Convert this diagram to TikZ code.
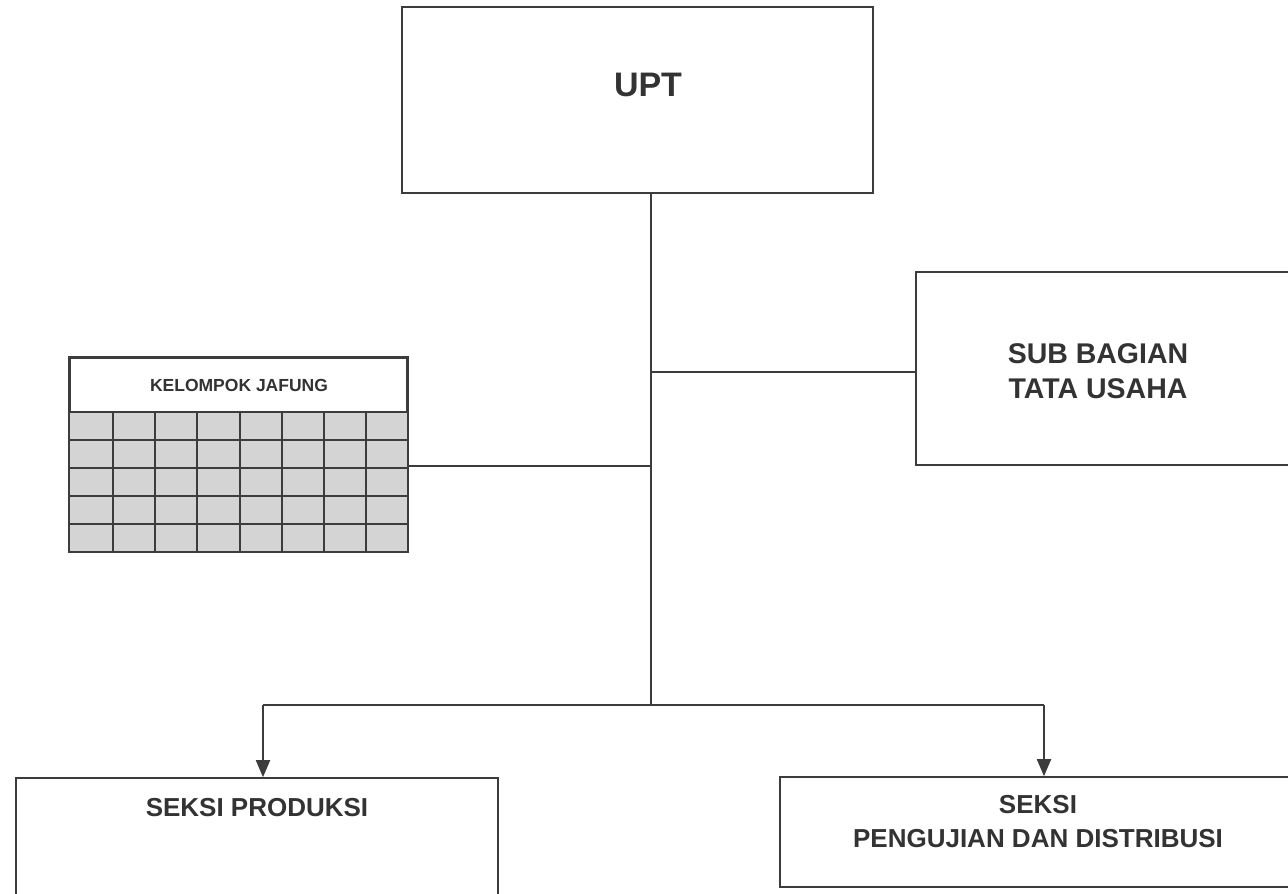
\documentclass[tikz,border=0pt]{standalone}
\usepackage{fontspec}
\setmainfont{Liberation Sans}
\usetikzlibrary{arrows.meta,calc}
\definecolor{ink}{HTML}{3C3C3C}
\definecolor{txtc}{HTML}{333333}
\definecolor{cellc}{HTML}{D4D4D4}
\tikzset{
  orgbox/.style={draw=ink, line width=1.6pt, rectangle, inner sep=0pt, fill=white},
  orgtxt/.style={text=txtc, font=\bfseries\fontsize{26}{32}\selectfont, align=center, inner sep=0pt},
  conn/.style={draw=ink, line width=1.8pt},
  arr/.style={conn, -{Triangle[width=14pt,length=17pt]}},
}
\begin{document}
\begin{tikzpicture}[x=1pt,y=-1pt]
\useasboundingbox (0,0) rectangle (1288,894);
\clip (0,0) rectangle (1288,894);
\fill[white] (0,0) rectangle (1288,894);
% UPT
\node[orgbox, minimum width=471pt, minimum height=186pt] (upt) at (637.5,100) {};
\node[orgtxt, font=\bfseries\fontsize{34}{38}\selectfont] (upttxt) at (648,85) {UPT};
% Sub Bagian Tata Usaha
\node[orgbox, minimum width=390pt, minimum height=193pt] (tu) at (1111,368.5) {};
\node[orgtxt, font=\bfseries\fontsize{28.5}{35}\selectfont] (tutxt) at (1098,371) {SUB BAGIAN\\TATA USAHA};
% Kelompok Jafung
\node[orgbox, minimum width=337pt, minimum height=193pt] (kj) at (238.5,454.5) {};
\fill[cellc] (70,412) rectangle (407,551);
\foreach \r in {412,440,468,496,524}{\draw[ink, line width=1.4pt] (70,\r) -- (407,\r);}
\foreach \c in {113,155,197,240,282,324,366}{\draw[ink, line width=1.4pt] (\c,412) -- (\c,551);}
\draw[ink, line width=1.6pt] (kj.north west) rectangle (kj.south east);
\node[orgtxt, font=\bfseries\fontsize{17.5}{20}\selectfont] (kjtxt) at (239,385) {KELOMPOK JAFUNG};
% Seksi boxes
\node[orgbox, minimum width=482pt, minimum height=140pt] (prod) at (257,848) {};
\node[orgtxt] (prodtxt) at (257,808) {SEKSI PRODUKSI};
\node[orgbox, minimum width=530pt, minimum height=110pt] (peng) at (1045,832) {};
\node[orgtxt, font=\bfseries\fontsize{26}{34}\selectfont] (pengtxt) at (1038,822) {SEKSI\\PENGUJIAN DAN DISTRIBUSI};
% connectors
\coordinate (bus) at (651,705);
\coordinate (busL) at (263,705);
\coordinate (busR) at (1044,705);
\coordinate (kjr) at (407,466);
\coordinate (tul) at (916,372);
\draw[conn] (upt.south -| bus) -- (bus);
\draw[conn] (tul) -- (tul -| bus);
\draw[conn] (kjr) -- (kjr -| bus);
\draw[conn] (busL) -- (busR);
\draw[arr] (busL) -- (busL |- prod.north);
\draw[arr] (busR) -- (busR |- peng.north);
\end{tikzpicture}
\end{document}
